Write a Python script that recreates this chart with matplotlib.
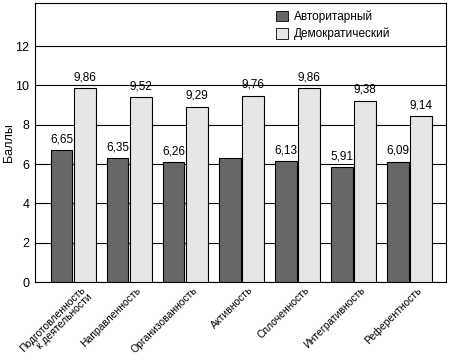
import matplotlib
matplotlib.use("Agg")
from matplotlib import pyplot as plt
from matplotlib.patches import Patch
import numpy as np

plt.rcParams['font.family'] = ['Liberation Sans Narrow', 'Liberation Sans', 'DejaVu Sans']

# categories and values
categories = ["Подготовленность\nк деятельности", "Направленность", "Организованность",
              "Активность", "Сплоченность", "Интегративность", "Референтность"]
# bar heights as drawn
auth_vals = [6.72, 6.29, 6.11, 6.29, 6.16, 5.83, 6.13]
demo_vals = [9.85, 9.39, 8.93, 9.49, 9.85, 9.22, 8.44]
# printed value labels
auth_labels = ["6,65", "6,35", "6,26", "", "6,13", "5,91", "6,09"]
demo_labels = ["9,86", "9,52", "9,29", "9,76", "9,86", "9,38", "9,14"]
series_names = ["Авторитарный", "Демократический"]

dark = "#666666"
light = "#e6e6e6"

fig = plt.figure(figsize=(4.5, 3.64), dpi=100)
ax = fig.add_axes([0.078, 0.225, 0.913, 0.767])

x = np.arange(len(categories))
w = 0.39
b1 = ax.bar(x - w/2 - 0.015, auth_vals, w, color=dark, edgecolor="black", linewidth=0.8, zorder=3)
b2 = ax.bar(x + w/2 + 0.015, demo_vals, w, color=light, edgecolor="black", linewidth=0.8, zorder=3)

for rect, lab in zip(b1, auth_labels):
    if lab:
        ax.text(rect.get_x() + rect.get_width()/2, rect.get_height() + 0.25, lab,
                ha="center", va="bottom", fontsize=8.5, zorder=4)
for rect, lab in zip(b2, demo_labels):
    ax.text(rect.get_x() + rect.get_width()/2, rect.get_height() + 0.25, lab,
            ha="center", va="bottom", fontsize=8.5, zorder=4)

ax.set_xlim(-0.68, 6.65)
ax.set_ylim(0, 14.2)
ax.set_yticks([0, 2, 4, 6, 8, 10, 12])
ax.yaxis.grid(True, color="black", linewidth=0.8, zorder=0)
ax.tick_params(axis="y", length=0, labelsize=9, pad=4)
ax.tick_params(axis="x", length=0, labelsize=7.5, pad=2)
ax.set_xticks(x + 0.12)
ax.set_xticklabels(categories, rotation=45, ha="right", rotation_mode="anchor",
                   linespacing=0.95)
ax.set_ylabel("Баллы", fontsize=9)
ax.yaxis.set_label_coords(-0.05, 0.5)
for s in ax.spines.values():
    s.set_linewidth(0.8)

handles = [Patch(facecolor=dark, edgecolor="black", linewidth=0.6),
           Patch(facecolor=light, edgecolor="black", linewidth=0.6)]
ax.legend(handles, series_names, loc="upper left", bbox_to_anchor=(0.56, 1.01),
          frameon=False, fontsize=8.5, handlelength=1.0, handleheight=1.0,
          handletextpad=0.5, labelspacing=0.4)

fig.savefig("out.png", dpi=100)
